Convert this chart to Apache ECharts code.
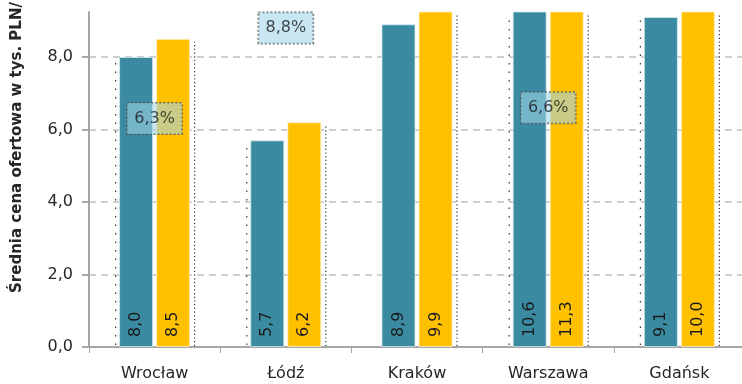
<!DOCTYPE html>
<html>
<head>
<meta charset="utf-8">
<script src="https://cdn.jsdelivr.net/npm/echarts@6/dist/echarts.min.js"></script>
<style>
  html, body { margin: 0; padding: 0; background: #ffffff; }
  #chart { width: 742px; height: 384px; }
</style>
</head>
<body>
<div id="chart"></div>
<script>
// Average asking price (thousand PLN per m²) in five cities, two periods
var cities = ['Wrocław', 'Łódź', 'Kraków', 'Warszawa', 'Gdańsk'];
var pricePrev = [8.0, 5.7, 8.9, 10.6, 9.1];
var priceCurr = [8.5, 6.2, 9.9, 11.3, 10.0];

// Price growth callouts, placed at the height of their own value
var growthCities = ['Wrocław', 'Łódź', 'Warszawa'];
var growthValues = [6.3, 8.8, 6.6];

// Y-axis ticks
var yTicks = [0, 2, 4, 6, 8];
var yMax = 9.24;

// Dotted guide lines beside each city group (1 = drawn)
var guideLeft = [1, 1, 0, 1, 1];
var guideRight = [1, 1, 1, 1, 1];

var FONT = 'DejaVu Sans';
var TEAL = '#3a8aa1';
var GOLD = '#ffc000';
var AXIS = '#a6a6a6';

function comma(v, d) { return v.toFixed(d).replace('.', ','); }

var chart = echarts.init(document.getElementById('chart'), null, { renderer: 'canvas' });

var valueLabel = {
  show: true,
  position: 'insideBottom',
  distance: 10,
  rotate: 90,
  align: 'left',
  verticalAlign: 'middle',
  fontFamily: FONT,
  fontSize: 16,
  color: '#1a1a1a',
  formatter: function (p) { return comma(p.value, 1); }
};

chart.setOption({
  animation: false,
  backgroundColor: '#ffffff',
  grid: { left: 89, top: 12, right: -3, bottom: 37, containLabel: false, outerBoundsMode: 'none' },
  xAxis: {
    type: 'category',
    data: cities,
    axisLine: { show: true, lineStyle: { color: AXIS, width: 2 } },
    axisTick: { show: true, length: 6, lineStyle: { color: AXIS, width: 1 } },
    axisLabel: { fontFamily: FONT, fontSize: 16, color: '#262626', margin: 19 },
    splitLine: { show: false }
  },
  yAxis: {
    type: 'value',
    min: 0,
    max: yMax,
    interval: 2,
    name: 'Średnia cena ofertowa w tys. PLN/',
    nameLocation: 'middle',
    nameGap: 64,
    nameRotate: 90,
    nameTextStyle: {
      fontFamily: FONT, fontSize: 15, fontWeight: 'bold', color: '#262626',
      padding: [0, 0, 0, 64]
    },
    axisLine: { show: true, lineStyle: { color: AXIS, width: 2 } },
    axisTick: { show: true, length: 7, customValues: yTicks, lineStyle: { color: AXIS, width: 2 } },
    axisLabel: {
      customValues: yTicks,
      fontFamily: FONT, fontSize: 16, color: '#262626', margin: 16,
      formatter: function (v) { return comma(v, 1); }
    },
    splitLine: {
      show: true,
      showMinLine: false,
      lineStyle: { color: '#cfcfcf', width: 2, type: [7, 5] }
    }
  },
  series: [
    {
      name: 'prev',
      type: 'bar',
      data: pricePrev,
      barWidth: 34,
      barGap: '9%',
      clip: true,
      itemStyle: { color: TEAL, borderColor: 'rgba(220,240,245,0.7)', borderWidth: 1 },
      label: valueLabel,
      z: 2
    },
    {
      name: 'curr',
      type: 'bar',
      data: priceCurr,
      barWidth: 34,
      clip: true,
      itemStyle: { color: GOLD, borderColor: 'rgba(255,240,200,0.8)', borderWidth: 1 },
      label: valueLabel,
      z: 2
    },
    {
      // dotted guides to the left and right of each city group
      type: 'custom',
      clip: true,
      silent: true,
      z: 1,
      data: cities.map(function (c, i) { return [i, pricePrev[i], priceCurr[i], guideLeft[i], guideRight[i]]; }),
      renderItem: function (params, api) {
        var i = api.value(0);
        var base = api.coord([i, 0]);
        var topL = api.coord([i, Math.min(api.value(1), yMax)]);
        var topR = api.coord([i, Math.min(api.value(2), yMax)]);
        var kids = [];
        if (api.value(3)) {
          kids.push({
            type: 'line',
            shape: { x1: base[0] - 39, y1: base[1] - 2, x2: base[0] - 39, y2: topL[1] + 3 },
            style: { stroke: '#333', lineWidth: 1.2, lineDash: [1.5, 7] }
          });
        }
        if (api.value(4)) {
          kids.push({
            type: 'line',
            shape: { x1: base[0] + 40, y1: base[1] - 1, x2: base[0] + 40, y2: topR[1] + 3 },
            style: { stroke: '#333', lineWidth: 1.2, lineDash: [1.2, 2.5] }
          });
        }
        return { type: 'group', children: kids };
      }
    },
    {
      // growth callouts
      type: 'scatter',
      symbolSize: 1,
      itemStyle: { color: 'rgba(0,0,0,0)' },
      silent: true,
      z: 5,
      data: growthCities.map(function (c, i) { return [c, growthValues[i]]; }),
      label: {
        show: true,
        position: 'inside',
        fontFamily: FONT,
        fontSize: 16,
        color: '#1a1a1a',
        backgroundColor: 'rgba(160,214,232,0.72)',
        borderColor: '#4a4a4a',
        borderWidth: 1,
        borderType: 'dotted',
        padding: [8, 7, 7, 7],
        formatter: function (p) { return comma(p.value[1], 1) + '%'; }
      }
    }
  ]
});
</script>
</body>
</html>
